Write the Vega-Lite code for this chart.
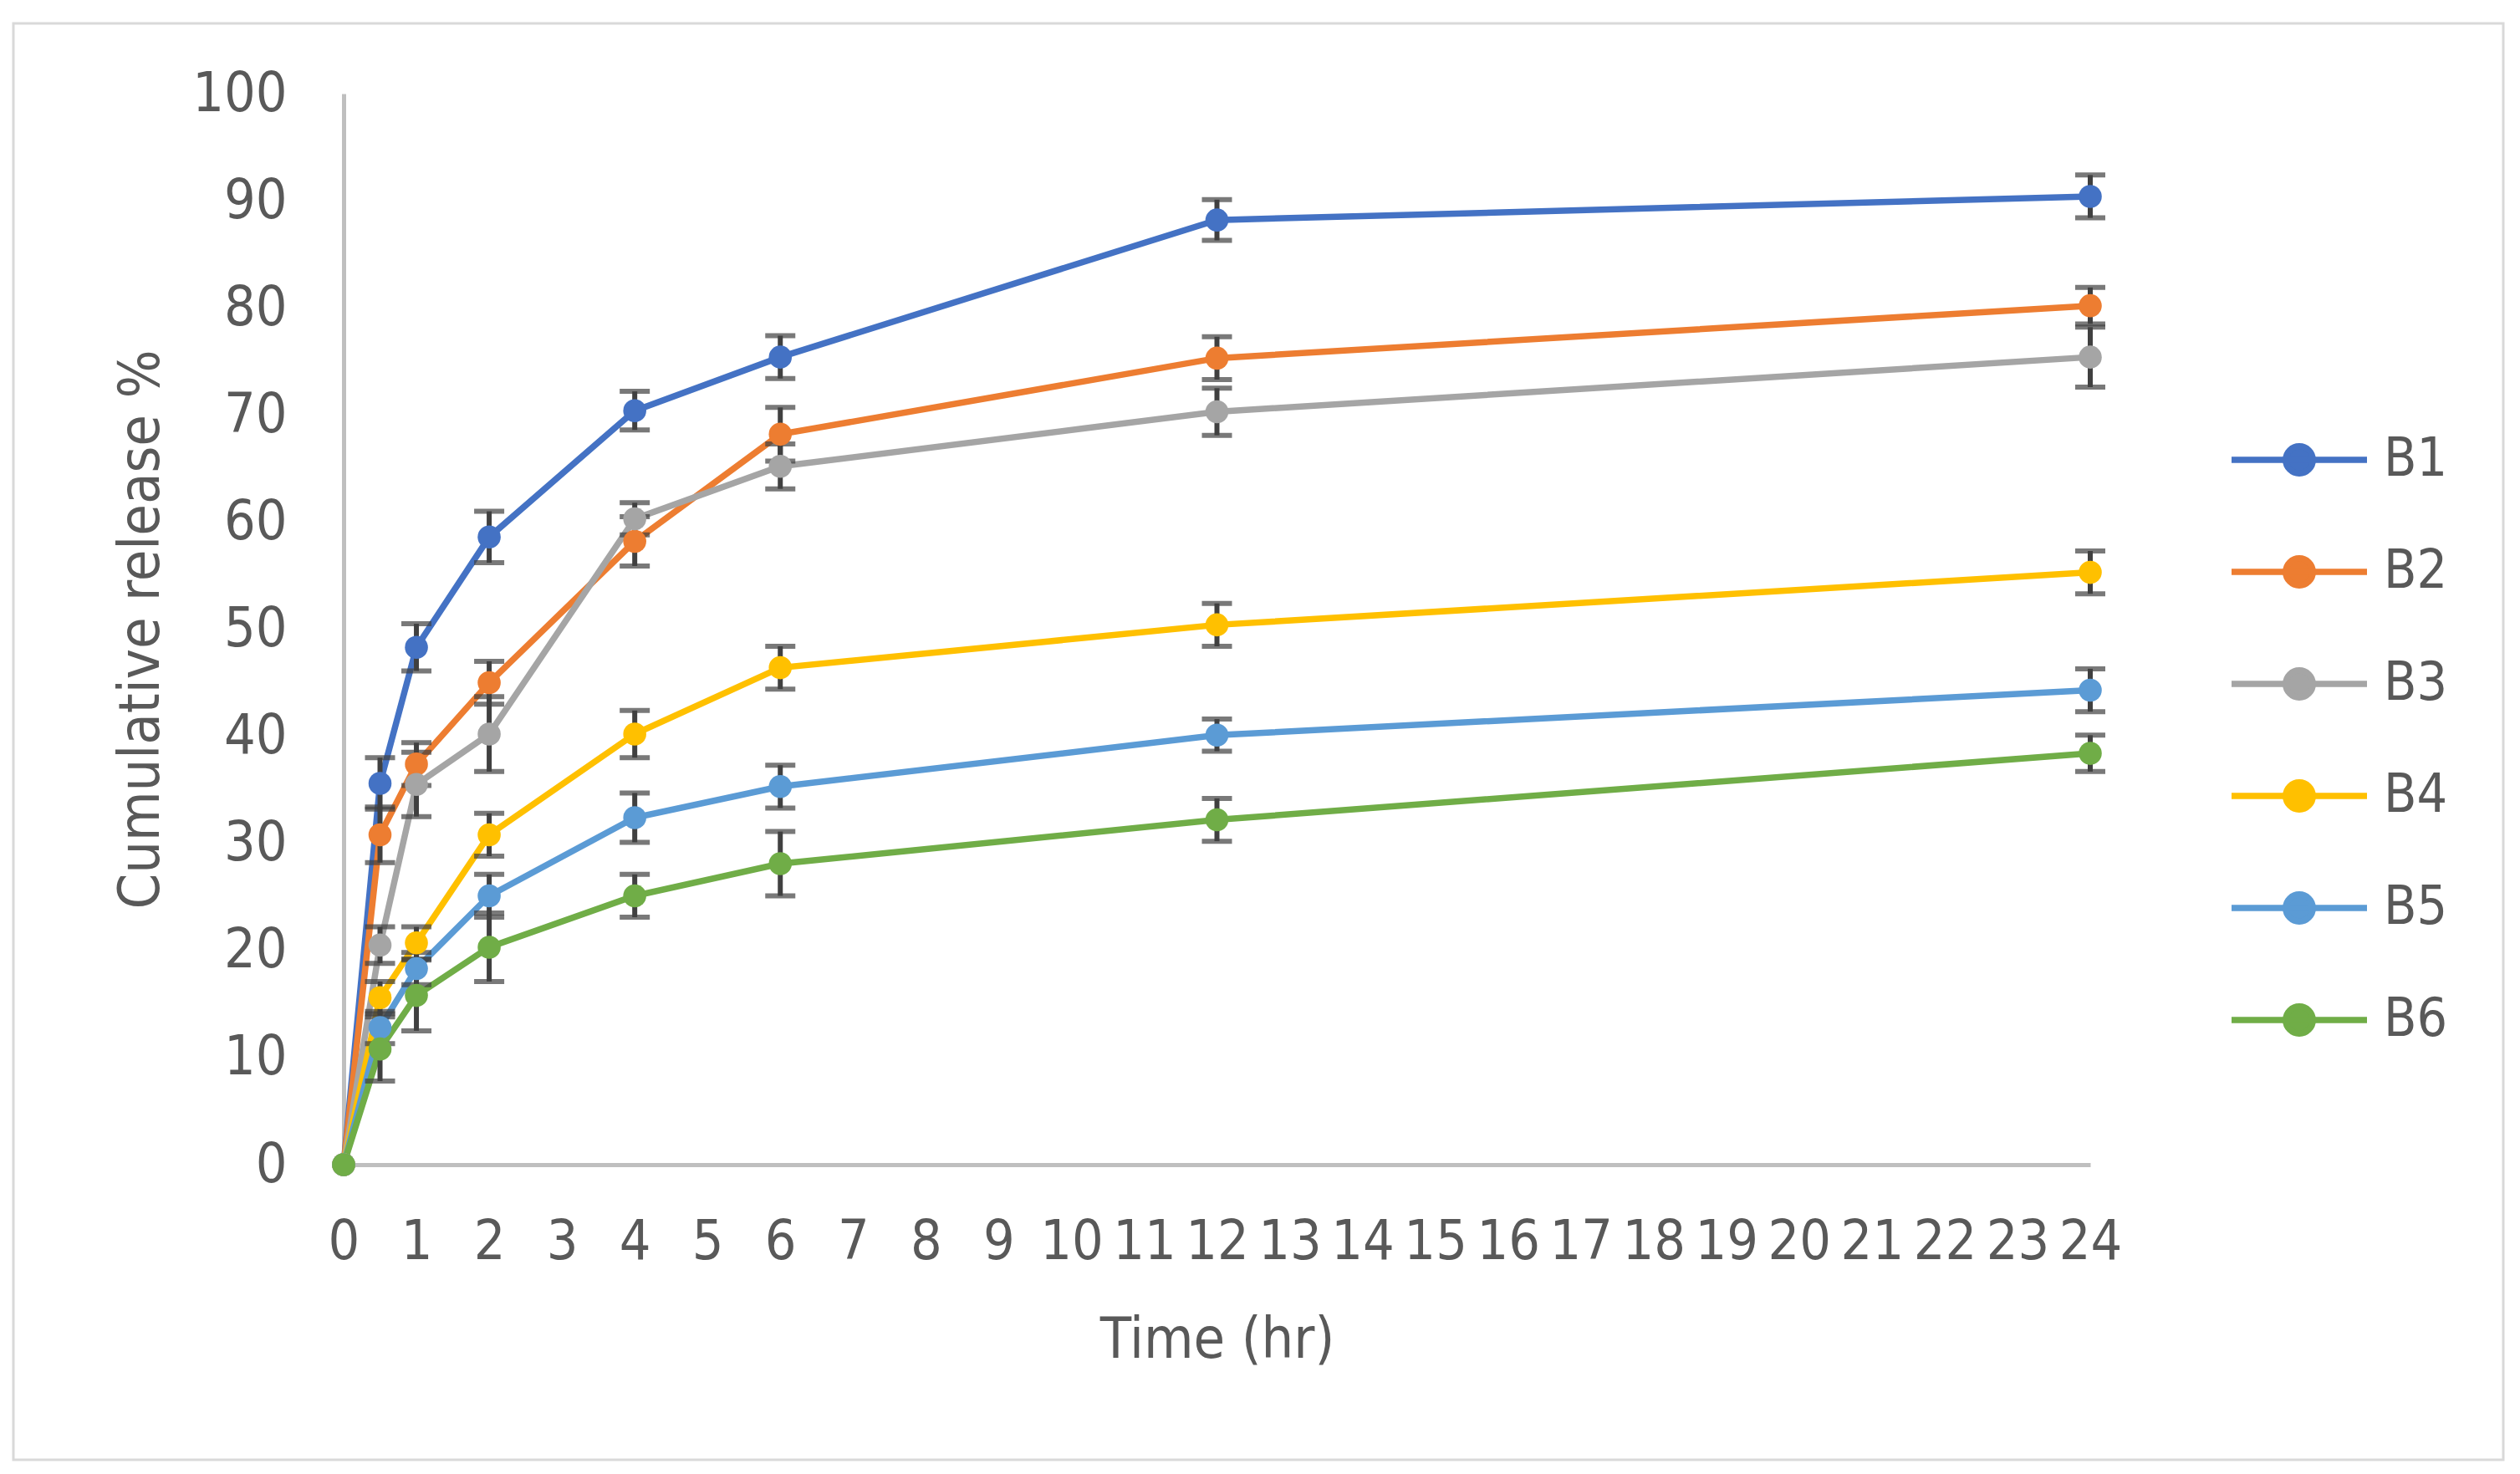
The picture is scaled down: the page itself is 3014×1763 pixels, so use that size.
{
  "$schema": "https://vega.github.io/schema/vega-lite/v6.json",
  "width": 2978,
  "height": 1718,
  "autosize": {"type": "none"},
  "padding": {"left": 16, "top": 28, "right": 20, "bottom": 17},
  "background": "white",
  "config": {
    "font": "Liberation Sans Narrow, DejaVu Sans Condensed, sans-serif",
    "view": {"stroke": "#d9d9d9", "strokeWidth": 3}
  },
  "data": {
    "values": [
      {"batch": "B1", "time": 0, "release": 0, "lo": null, "hi": null},
      {"batch": "B1", "time": 0.5, "release": 35.6, "lo": 33.2, "hi": 38.0},
      {"batch": "B1", "time": 1, "release": 48.3, "lo": 46.1, "hi": 50.5},
      {"batch": "B1", "time": 2, "release": 58.6, "lo": 56.2, "hi": 61.0},
      {"batch": "B1", "time": 4, "release": 70.4, "lo": 68.6, "hi": 72.2},
      {"batch": "B1", "time": 6, "release": 75.4, "lo": 73.4, "hi": 77.4},
      {"batch": "B1", "time": 12, "release": 88.2, "lo": 86.3, "hi": 90.1},
      {"batch": "B1", "time": 24, "release": 90.4, "lo": 88.4, "hi": 92.4},
      {"batch": "B2", "time": 0, "release": 0, "lo": null, "hi": null},
      {"batch": "B2", "time": 0.5, "release": 30.8, "lo": 28.2, "hi": 33.4},
      {"batch": "B2", "time": 1, "release": 37.4, "lo": 35.4, "hi": 39.4},
      {"batch": "B2", "time": 2, "release": 45.0, "lo": 43.0, "hi": 47.0},
      {"batch": "B2", "time": 4, "release": 58.2, "lo": 55.9, "hi": 60.5},
      {"batch": "B2", "time": 6, "release": 68.2, "lo": 65.7, "hi": 70.7},
      {"batch": "B2", "time": 12, "release": 75.3, "lo": 73.3, "hi": 77.3},
      {"batch": "B2", "time": 24, "release": 80.2, "lo": 78.5, "hi": 81.9},
      {"batch": "B3", "time": 0, "release": 0, "lo": null, "hi": null},
      {"batch": "B3", "time": 0.5, "release": 20.5, "lo": 18.8, "hi": 22.2},
      {"batch": "B3", "time": 1, "release": 35.5, "lo": 32.5, "hi": 38.5},
      {"batch": "B3", "time": 2, "release": 40.2, "lo": 36.7, "hi": 43.7},
      {"batch": "B3", "time": 4, "release": 60.3, "lo": 58.8, "hi": 61.8},
      {"batch": "B3", "time": 6, "release": 65.2, "lo": 63.1, "hi": 67.3},
      {"batch": "B3", "time": 12, "release": 70.3, "lo": 68.1, "hi": 72.5},
      {"batch": "B3", "time": 24, "release": 75.4, "lo": 72.6, "hi": 78.2},
      {"batch": "B4", "time": 0, "release": 0, "lo": null, "hi": null},
      {"batch": "B4", "time": 0.5, "release": 15.6, "lo": 14.1, "hi": 17.1},
      {"batch": "B4", "time": 1, "release": 20.7, "lo": 19.2, "hi": 22.2},
      {"batch": "B4", "time": 2, "release": 30.8, "lo": 28.8, "hi": 32.8},
      {"batch": "B4", "time": 4, "release": 40.2, "lo": 38.0, "hi": 42.4},
      {"batch": "B4", "time": 6, "release": 46.4, "lo": 44.4, "hi": 48.4},
      {"batch": "B4", "time": 12, "release": 50.4, "lo": 48.4, "hi": 52.4},
      {"batch": "B4", "time": 24, "release": 55.3, "lo": 53.3, "hi": 57.3},
      {"batch": "B5", "time": 0, "release": 0, "lo": null, "hi": null},
      {"batch": "B5", "time": 0.5, "release": 12.8, "lo": 11.3, "hi": 14.3},
      {"batch": "B5", "time": 1, "release": 18.3, "lo": 16.8, "hi": 19.8},
      {"batch": "B5", "time": 2, "release": 25.1, "lo": 23.1, "hi": 27.1},
      {"batch": "B5", "time": 4, "release": 32.4, "lo": 30.1, "hi": 34.7},
      {"batch": "B5", "time": 6, "release": 35.3, "lo": 33.3, "hi": 37.3},
      {"batch": "B5", "time": 12, "release": 40.1, "lo": 38.6, "hi": 41.6},
      {"batch": "B5", "time": 24, "release": 44.3, "lo": 42.3, "hi": 46.3},
      {"batch": "B6", "time": 0, "release": 0, "lo": null, "hi": null},
      {"batch": "B6", "time": 0.5, "release": 10.8, "lo": 7.8, "hi": 13.8},
      {"batch": "B6", "time": 1, "release": 15.8, "lo": 12.5, "hi": 19.1},
      {"batch": "B6", "time": 2, "release": 20.3, "lo": 17.1, "hi": 23.5},
      {"batch": "B6", "time": 4, "release": 25.1, "lo": 23.1, "hi": 27.1},
      {"batch": "B6", "time": 6, "release": 28.1, "lo": 25.1, "hi": 31.1},
      {"batch": "B6", "time": 12, "release": 32.2, "lo": 30.2, "hi": 34.2},
      {"batch": "B6", "time": 24, "release": 38.4, "lo": 36.7, "hi": 40.1}
    ]
  },
  "encoding": {
    "x": {
      "field": "time",
      "type": "quantitative",
      "scale": {"domain": [0, 24], "range": [395, 2484], "nice": false, "zero": false},
      "axis": {
        "values": [0, 1, 2, 3, 4, 5, 6, 7, 8, 9, 10, 11, 12, 13, 14, 15, 16, 17, 18, 19, 20, 21, 22, 23, 24],
        "offset": -353,
        "grid": false,
        "ticks": false,
        "domainColor": "#bfbfbf",
        "domainWidth": 5,
        "labelFontSize": 66,
        "labelColor": "#595959",
        "labelPadding": 60,
        "labelOverlap": false,
        "labelFlush": false,
        "title": "Time (hr)",
        "titleFontSize": 68,
        "titleFontWeight": "normal",
        "titleColor": "#595959",
        "titleY": 210,
        "titleBaseline": "middle"
      }
    }
  },
  "layer": [
    {
      "mark": {"type": "line", "strokeWidth": 7.5},
      "encoding": {
        "y": {
          "field": "release",
          "type": "quantitative",
          "title": "Cumulative release %",
          "scale": {"domain": [0, 100], "range": [1365, 84], "nice": false},
          "axis": {
            "values": [0, 10, 20, 30, 40, 50, 60, 70, 80, 90, 100],
            "offset": -395,
            "grid": false,
            "ticks": false,
            "domainColor": "#bfbfbf",
            "domainWidth": 5,
            "labelFontSize": 66,
            "labelColor": "#595959",
            "labelPadding": 68,
            "title": "Cumulative release %",
            "titleFontSize": 68,
            "titleFontWeight": "normal",
            "titleColor": "#595959",
            "titleX": -242,
            "titleBaseline": "middle"
          }
        },
        "color": {
          "field": "batch",
          "type": "nominal",
          "scale": {
            "domain": ["B1", "B2", "B3", "B4", "B5", "B6"],
            "range": ["#4472C4", "#ED7D31", "#A5A5A5", "#FFC000", "#5B9BD5", "#70AD47"]
          },
          "legend": {
            "orient": "none",
            "legendX": 2649,
            "legendY": 455,
            "title": null,
            "padding": 0,
            "symbolType": "M-1,0H1M-0.2,0A0.2,0.2,0,1,1,0.2,0A0.2,0.2,0,1,1,-0.2,0Z",
            "symbolSize": 26244,
            "symbolStrokeWidth": 7.5,
            "labelFontSize": 64,
            "labelColor": "#595959",
            "labelOffset": 16,
            "rowPadding": 0,
            "clipHeight": 134
          }
        }
      }
    },
    {
      "mark": {"type": "errorbar", "ticks": {"size": 36}, "thickness": 6, "color": "#404040"},
      "encoding": {
        "y": {"field": "lo", "type": "quantitative", "title": "Cumulative release %"},
        "y2": {"field": "hi"},
        "detail": {"field": "batch"}
      }
    },
    {
      "mark": {"type": "circle", "size": 760, "opacity": 1},
      "encoding": {
        "y": {"field": "release", "type": "quantitative", "title": "Cumulative release %"},
        "color": {"field": "batch", "type": "nominal"}
      }
    }
  ]
}
